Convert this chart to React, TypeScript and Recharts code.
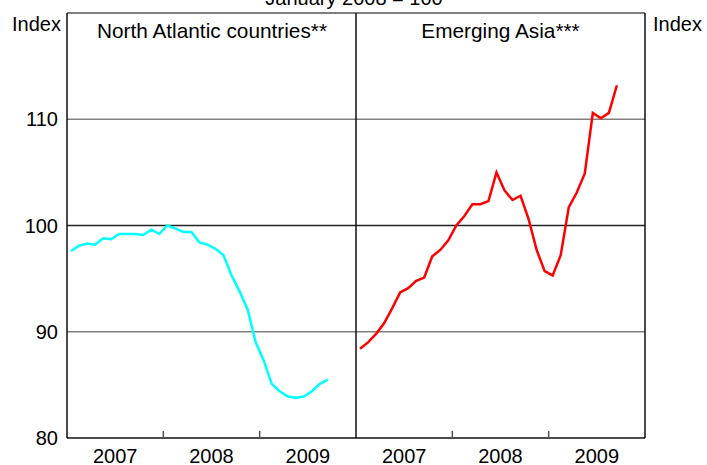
import { LineChart, Line, XAxis, YAxis, ReferenceLine } from "recharts";

// monthly index, Jan 2007 .. Sep 2009 (January 2008 = 100)
const northAtlantic = [
  97.6, 98.1, 98.3, 98.2, 98.8, 98.7, 99.2, 99.2, 99.2, 99.1, 99.6, 99.2,
  100.0, 99.7, 99.4, 99.4, 98.4, 98.2, 97.8, 97.2, 95.3, 93.8, 92.1, 89.0,
  87.3, 85.1, 84.4, 83.9, 83.8, 83.9, 84.4, 85.1, 85.5,
];
const emergingAsia = [
  88.4, 89.0, 89.8, 90.8, 92.2, 93.7, 94.1, 94.8, 95.1, 97.1, 97.7, 98.6,
  100.0, 100.9, 102.0, 102.0, 102.3, 105.0, 103.3, 102.4, 102.8, 100.6, 97.7, 95.7,
  95.3, 97.2, 101.7, 103.1, 104.9, 110.6, 110.1, 110.6, 113.2,
];
const years = ["2007", "2008", "2009"];
const yTicks = [80, 90, 100, 110];

const FONT = '"Liberation Sans", Arial, sans-serif';

// each panel spans 36 months on a shared numeric axis: left 0..36, right 36..72
const northData = northAtlantic.map((v, i) => ({ x: i + 0.5, v }));
const asiaData = emergingAsia.map((v, i) => ({ x: 36 + i + 0.5, v }));

const labelTicks: Record<number, string> = {};
years.forEach((y, i) => {
  labelTicks[6 + i * 12] = y;
  labelTicks[42 + i * 12] = y;
});
const markTicks = [12, 24, 48, 60];
const xTicks = [...Object.keys(labelTicks).map(Number), ...markTicks].sort((a, b) => a - b);

function YearTick(props: any) {
  const { x, y, payload } = props;
  const label = labelTicks[payload.value];
  if (label) {
    return (
      <text x={x} y={y + 25} textAnchor="middle" fontSize={20} fontFamily={FONT} fill="#000">
        {label}
      </text>
    );
  }
  return <line x1={x} x2={x} y1={y} y2={y - 7} stroke="#555" strokeWidth={1.5} />;
}

export default function App() {
  return (
    <div style={{ position: "absolute", left: 0, top: 0, width: 707, height: 465, background: "#fff" }}>
      <LineChart width={707} height={465} margin={{ top: 13, right: 2, bottom: 0, left: 7 }}>
        <XAxis
          type="number"
          dataKey="x"
          domain={[0, 72]}
          ticks={xTicks}
          interval={0}
          axisLine={false}
          tickLine={false}
          tickSize={0}
          tickMargin={0}
          height={27}
          tick={<YearTick />}
        />
        <YAxis
          yAxisId="left"
          domain={[80, 120]}
          ticks={yTicks}
          axisLine={false}
          tickLine={false}
          tickMargin={3}
          width={60}
          tick={{ fontSize: 20, fill: "#000", fontFamily: FONT }}
        />
        <YAxis
          yAxisId="right"
          orientation="right"
          domain={[80, 120]}
          ticks={yTicks}
          axisLine={false}
          tickLine={false}
          tickMargin={2}
          width={60}
          tick={{ fontSize: 20, fill: "#000", fontFamily: FONT, textAnchor: "start" }}
        />
        <ReferenceLine yAxisId="left" y={90} stroke="#808080" strokeWidth={1.5} />
        <ReferenceLine yAxisId="left" y={110} stroke="#808080" strokeWidth={1.5} />
        <ReferenceLine yAxisId="left" y={100} stroke="#222" strokeWidth={1.5} />
        <ReferenceLine yAxisId="left" y={120} stroke="#555" strokeWidth={1.5} />
        <ReferenceLine yAxisId="left" y={80} stroke="#111" strokeWidth={1.5} />
        <ReferenceLine yAxisId="left" x={0} stroke="#111" strokeWidth={1.5} />
        <ReferenceLine yAxisId="left" x={72} stroke="#111" strokeWidth={1.5} />
        <ReferenceLine yAxisId="left" x={36} stroke="#111" strokeWidth={1.5} />
        <Line
          yAxisId="left"
          data={northData}
          dataKey="v"
          stroke="#00ffff"
          strokeWidth={2.5}
          dot={false}
          type="linear"
          isAnimationActive={false}
        />
        <Line
          yAxisId="left"
          data={asiaData}
          dataKey="v"
          stroke="#ff0000"
          strokeWidth={2.5}
          dot={false}
          type="linear"
          isAnimationActive={false}
        />
      </LineChart>
      <svg
        width={707}
        height={465}
        style={{ position: "absolute", left: 0, top: 0, pointerEvents: "none" }}
        fontFamily={FONT}
        fontSize={20}
      >
        <text x={354} y={5} textAnchor="middle">January 2008 = 100</text>
        <text x={12} y={31}>Index</text>
        <text x={653} y={31}>Index</text>
        <text x={212} y={38} textAnchor="middle" fontSize={20.8}>North Atlantic countries**</text>
        <text x={500.5} y={38} textAnchor="middle" fontSize={20.8}>Emerging Asia***</text>
      </svg>
    </div>
  );
}
